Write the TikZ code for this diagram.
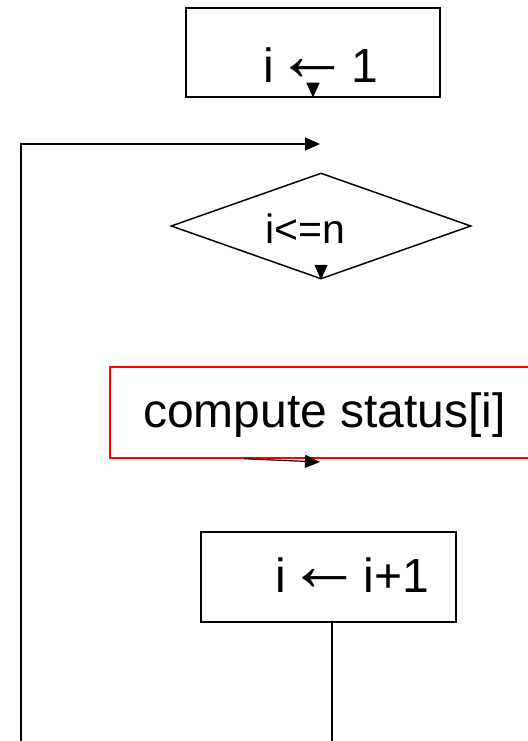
\documentclass[tikz,border=0pt]{standalone}
\usepackage{fontspec}
\setmainfont{Liberation Sans}
\usetikzlibrary{shapes.geometric,arrows.meta}
\newcommand{\assign}{\hspace{-12pt}\raisebox{2pt}{\scalebox{1.55}{←}}\hspace{-12pt}}

\begin{document}
\begin{tikzpicture}
[x=1pt, y=-1pt,
 every node/.style={inner sep=0pt},
 box/.style={rectangle, draw=black, line width=1.5pt},
 flow/.style={line width=1.2pt, -{Triangle[length=15pt,width=13pt]}},
 wire/.style={line width=1.2pt}]
\useasboundingbox (0,0) rectangle (527,741);
% boxes
\node (init) [box, minimum width=254pt, minimum height=89pt] at (313,52.5) {};
\node (test) [diamond, draw=black, line width=1.5pt, minimum width=300pt, minimum height=106pt] at (321,226) {};
\node (compute) [box, draw=red, minimum width=420pt, minimum height=91pt] at (320,412.5) {};
\node (incr) [box, minimum width=255pt, minimum height=90pt] at (328.5,577) {};
% texts
\node (initlabel) [anchor=base] at (320.5,83) {\fontsize{48}{58}\selectfont i \assign{} 1};
\node (testlabel) [anchor=base] at (305.5,243) {\fontsize{41}{49}\selectfont i<=n};
\node (computelabel) [anchor=base] at (324.5,427) {\fontsize{48}{58}\selectfont compute status[i]};
\node (incrlabel) [anchor=base] at (352.5,592) {\fontsize{48}{58}\selectfont i \assign{} i+1};
% loop back
\coordinate (downA) at (332,741);
\coordinate (downB) at (21,741);
\coordinate (corner) at (21,144);
\coordinate (looptop) at (320,144);
\coordinate (computeend) at (320,462);
\draw [wire] (incr.south -| downA) -- (downA);
\draw [flow] (downB) -- (corner) -- (looptop);
% arrows
\draw [flow] ([yshift=12pt]init.south) -- (init.south);
\draw [flow] ([yshift=12pt]test.south) -- (test.south);
\draw [flow] ([xshift=135pt]compute.south west) -- (computeend);
\end{tikzpicture}
\end{document}
